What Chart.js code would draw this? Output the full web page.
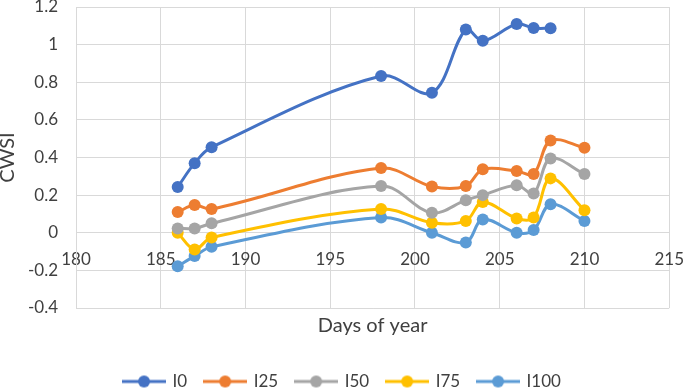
<!DOCTYPE html>
<html>
<head>
<meta charset="utf-8">
<title>CWSI</title>
<script src="https://cdn.jsdelivr.net/npm/chart.js@4.4.0/dist/chart.umd.min.js"></script>
<style>
  html, body { margin: 0; padding: 0; background: #fff; }
  #wrap { width: 685px; height: 391px; position: relative; }
</style>
</head>
<body>
<div id="wrap"><canvas id="myChart"></canvas></div>
<script>
// days of year for each measurement
const days = [186, 187, 188, 198, 201, 203, 204, 206, 207, 208, 210];

// CWSI per irrigation treatment (I0 has no value on day 210)
const i0   = [0.243, 0.37, 0.455, 0.833, 0.744, 1.08, 1.02, 1.11, 1.088, 1.087, null];
const i25  = [0.11, 0.147, 0.126, 0.344, 0.246, 0.248, 0.337, 0.328, 0.312, 0.49, 0.452];
const i50  = [0.023, 0.023, 0.05, 0.248, 0.106, 0.173, 0.2, 0.253, 0.209, 0.395, 0.312];
const i75  = [0.0, -0.089, -0.025, 0.126, 0.053, 0.063, 0.164, 0.076, 0.081, 0.289, 0.12];
const i100 = [-0.178, -0.124, -0.075, 0.081, 0.0, -0.052, 0.071, 0.0, 0.014, 0.152, 0.063];

const seriesNames = ['I0', 'I25', 'I50', 'I75', 'I100'];
const seriesValues = [i0, i25, i50, i75, i100];
const colors = ['#4472C4', '#ED7D31', '#A5A5A5', '#FFC000', '#5B9BD5'];

const xTicks = [180, 185, 190, 195, 200, 205, 210, 215];
const yTicks = [-0.4, -0.2, 0, 0.2, 0.4, 0.6, 0.8, 1, 1.2];

const FONT = 'Lato, "Open Sans", sans-serif';
const FS = 17;       // ticks + legend
const FS_TITLE = 20; // axis titles
const textColor = '#404040';
const gridColor = '#d9d9d9';

// little line-with-dot marker for the legend, like Excel
function legendMarker(color) {
  const c = document.createElement('canvas');
  c.width = 44; c.height = 14;
  const g = c.getContext('2d');
  g.strokeStyle = color;
  g.lineWidth = 3;
  g.beginPath(); g.moveTo(0, 7); g.lineTo(44, 7); g.stroke();
  g.fillStyle = color;
  g.beginPath(); g.arc(22, 7, 6, 0, Math.PI * 2); g.fill();
  return c;
}
const markers = colors.map(legendMarker);

const datasets = seriesNames.map((name, i) => ({
  label: name,
  data: days.map((d, j) => ({ x: d, y: seriesValues[i][j] })).filter(p => p.y !== null),
  borderColor: colors[i],
  backgroundColor: colors[i],
  borderWidth: 3,
  pointRadius: 6,
  pointHoverRadius: 6,
  pointBorderWidth: 0,
  tension: 0.35,
  xAxisID: 'x',
  yAxisID: 'y'
}));

const ctx = document.getElementById('myChart').getContext('2d');
const chart = new Chart(ctx, {
  type: 'line',
  data: { datasets: datasets },
  options: {
    responsive: true,
    maintainAspectRatio: false,
    animation: false,
    layout: { padding: { top: 7, right: 0, left: 0, bottom: -9 } },
    plugins: {
      tooltip: { enabled: false },
      legend: {
        position: 'bottom',
        labels: {
          usePointStyle: true,
          pointStyleWidth: 40,
          boxHeight: 14,
          padding: 18,
          color: textColor,
          font: { family: FONT, size: FS },
          generateLabels: function (ch) {
            return ch.data.datasets.map((ds, i) => ({
              text: ds.label,
              fillStyle: colors[i],
              strokeStyle: colors[i],
              fontColor: textColor,
              lineWidth: 0,
              pointStyle: markers[i],
              datasetIndex: i,
              hidden: false
            }));
          }
        }
      }
    },
    scales: {
      x: {
        type: 'linear',
        position: { y: 0 },
        min: 180,
        max: 215,
        afterBuildTicks: s => { s.ticks = xTicks.map(v => ({ value: v })); },
        grid: { color: gridColor, lineWidth: 1, drawTicks: true, tickLength: 16, tickColor: 'rgba(0,0,0,0)' },
        border: { color: gridColor, width: 1 },
        ticks: {
          padding: 1,
          maxRotation: 0,
          color: textColor,
          font: { family: FONT, size: FS }
        }
      },
      xTitle: {
        type: 'linear',
        axis: 'x',
        position: 'bottom',
        min: 180,
        max: 215,
        afterFit: s => { s.height = 47; },
        grid: { display: false },
        border: { display: false },
        ticks: { display: false },
        title: {
          display: true,
          text: 'Days of year',
          color: textColor,
          font: { family: FONT, size: FS_TITLE },
          padding: { top: 0, bottom: 17 }
        }
      },
      y: {
        min: -0.4,
        max: 1.2,
        afterBuildTicks: s => { s.ticks = yTicks.map(v => ({ value: v })); },
        afterFit: s => { s.width = 76; },
        grid: { color: gridColor, lineWidth: 1, drawTicks: true, tickLength: 18, tickColor: 'rgba(0,0,0,0)' },
        border: { color: gridColor, width: 1 },
        ticks: {
          padding: 0,
          color: textColor,
          font: { family: FONT, size: FS, lineHeight: 0.8 },
          callback: v => String(Math.round(v * 10) / 10)
        },
        title: {
          display: true,
          text: 'CWSI',
          color: textColor,
          font: { family: FONT, size: FS_TITLE, lineHeight: 0.8 },
          padding: 0
        }
      }
    }
  }
});
</script>
</body>
</html>
